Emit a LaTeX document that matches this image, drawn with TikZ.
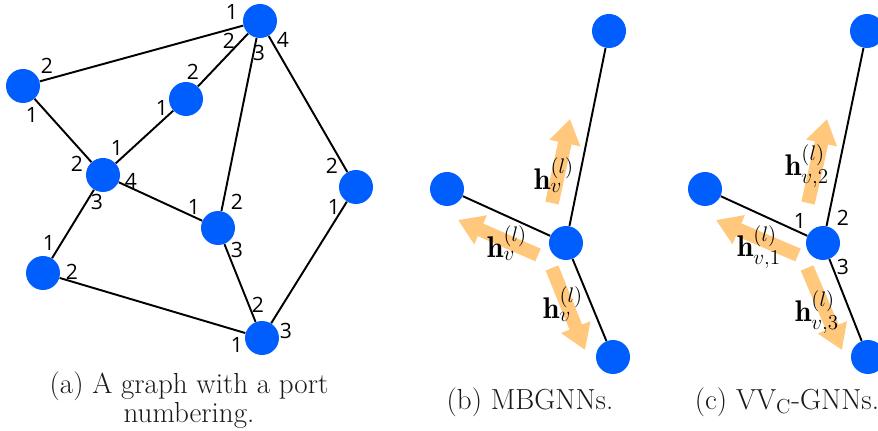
\documentclass[tikz,border=0pt]{standalone}
\usepackage{amsmath,amssymb}
\usepackage{fontspec}
\newfontfamily\portfont{Open Sans}
\usetikzlibrary{arrows.meta,positioning}
\definecolor{vblue}{HTML}{005EFF}
\definecolor{msgorange}{HTML}{FFC87C}

\begin{document}
\begin{tikzpicture}[x=0.02cm,y=-0.02cm,
    vtx/.style={circle,fill=vblue,minimum size=0.68cm,inner sep=0pt},
    lnk/.style={line width=1.1pt},
    port/.style={font=\portfont\fontsize{12}{14}\selectfont,inner sep=0pt},
    lbl/.style={font=\fontsize{17}{20}\selectfont,inner sep=0pt},
    subcap/.style={font=\fontsize{16.5}{16.5}\selectfont,text=black!90,align=center,inner sep=0pt},
    msg/.style={draw=msgorange,line width=7.8pt,-{Triangle[width=17pt,length=14pt]}}]
    \useasboundingbox (0,0) rectangle (878,431);

    % (a) graph with port numbers
    \node[vtx] (A) at (260,21) {};
    \node[vtx] (B) at (23,86) {};
    \node[vtx] (C) at (186,99) {};
    \node[vtx] (D) at (103,175) {};
    \node[vtx] (E) at (356,187) {};
    \node[vtx] (F) at (218,228) {};
    \node[vtx] (G) at (43,273) {};
    \node[vtx] (H) at (262,338) {};
    \foreach \u/\v in {A/B,A/C,A/F,A/E,B/D,C/D,D/F,D/G,F/H,E/H,G/H}
        \draw[lnk] (\u) -- (\v);

    \node[port] (pA1) at (232,12) {1};
    \node[port] (pA2) at (229,41) {2};
    \node[port] (pA3) at (259,53) {3};
    \node[port] (pA4) at (283,40) {4};
    \node[port] (pB2) at (47,66) {2};
    \node[port] (pB1) at (32,115) {1};
    \node[port] (pC2) at (193,72) {2};
    \node[port] (pC1) at (162,108) {1};
    \node[port] (pD1) at (117,148) {1};
    \node[port] (pD2) at (77,164) {2};
    \node[port] (pD4) at (131,181) {4};
    \node[port] (pD3) at (97,202) {3};
    \node[port] (pE2) at (332,166) {2};
    \node[port] (pE1) at (334,207) {1};
    \node[port] (pF1) at (194,207) {1};
    \node[port] (pF2) at (237,202) {2};
    \node[port] (pF3) at (237,250) {3};
    \node[port] (pG1) at (49,243) {1};
    \node[port] (pG2) at (72,272) {2};
    \node[port] (pH2) at (258,305) {2};
    \node[port] (pH3) at (286,331) {3};
    \node[port] (pH1) at (237,345) {1};

    \node[subcap] (capa) at (189,400) {(a) A graph with a port\\numbering.};

    % (b) MBGNNs
    \node[vtx] (bt) at (609,31) {};
    \node[vtx] (bl) at (447,189) {};
    \node[vtx] (bc) at (566,243) {};
    \node[vtx] (bb) at (613,357) {};
    \foreach \v in {bt,bl,bb}
        \draw[lnk] (bc) -- (\v);
    \coordinate (bu0) at (552,203); \coordinate (bu1) at (570,119);
    \coordinate (bl0) at (538,255); \coordinate (bl1) at (458,220);
    \coordinate (bd0) at (552,268); \coordinate (bd1) at (585,350);
    \draw[msg] (bu0) -- (bu1);
    \draw[msg] (bl0) -- (bl1);
    \draw[msg] (bd0) -- (bd1);
    \node[lbl] (hbu) at (554,175) {$\mathbf{h}_v^{(l)}$};
    \node[lbl] (hbl) at (507,243) {$\mathbf{h}_v^{(l)}$};
    \node[lbl] (hbd) at (563,304) {$\mathbf{h}_v^{(l)}$};

    \node[subcap] (capb) at (530,402) {(b) MBGNNs.};

    % (c) VV_C-GNNs
    \node[vtx] (ct) at (867,31) {};
    \node[vtx] (cl) at (705,189) {};
    \node[vtx] (cc) at (823,243) {};
    \node[vtx] (cb) at (868,357) {};
    \foreach \v in {ct,cl,cb}
        \draw[lnk] (cc) -- (\v);
    \coordinate (cu0) at (808,203); \coordinate (cu1) at (827,119);
    \coordinate (cl0) at (798,255); \coordinate (cl1) at (716,220);
    \coordinate (cd0) at (807,268); \coordinate (cd1) at (842,350);
    \draw[msg] (cu0) -- (cu1);
    \draw[msg] (cl0) -- (cl1);
    \draw[msg] (cd0) -- (cd1);
    \node[lbl] (hcu) at (807,166) {$\mathbf{h}_{v,2}^{(l)}$};
    \node[lbl] (hcl) at (759,247) {$\mathbf{h}_{v,1}^{(l)}$};
    \node[lbl] (hcd) at (817,312) {$\mathbf{h}_{v,3}^{(l)}$};
    \node[port] (pc1) at (800,221) {1};
    \node[port] (pc2) at (843,218) {2};
    \node[port] (pc3) at (843,267) {3};

    \node[subcap] (capc) at (787,402) {(c) VV$_{\mathrm{C}}$-GNNs.};
\end{tikzpicture}
\end{document}
